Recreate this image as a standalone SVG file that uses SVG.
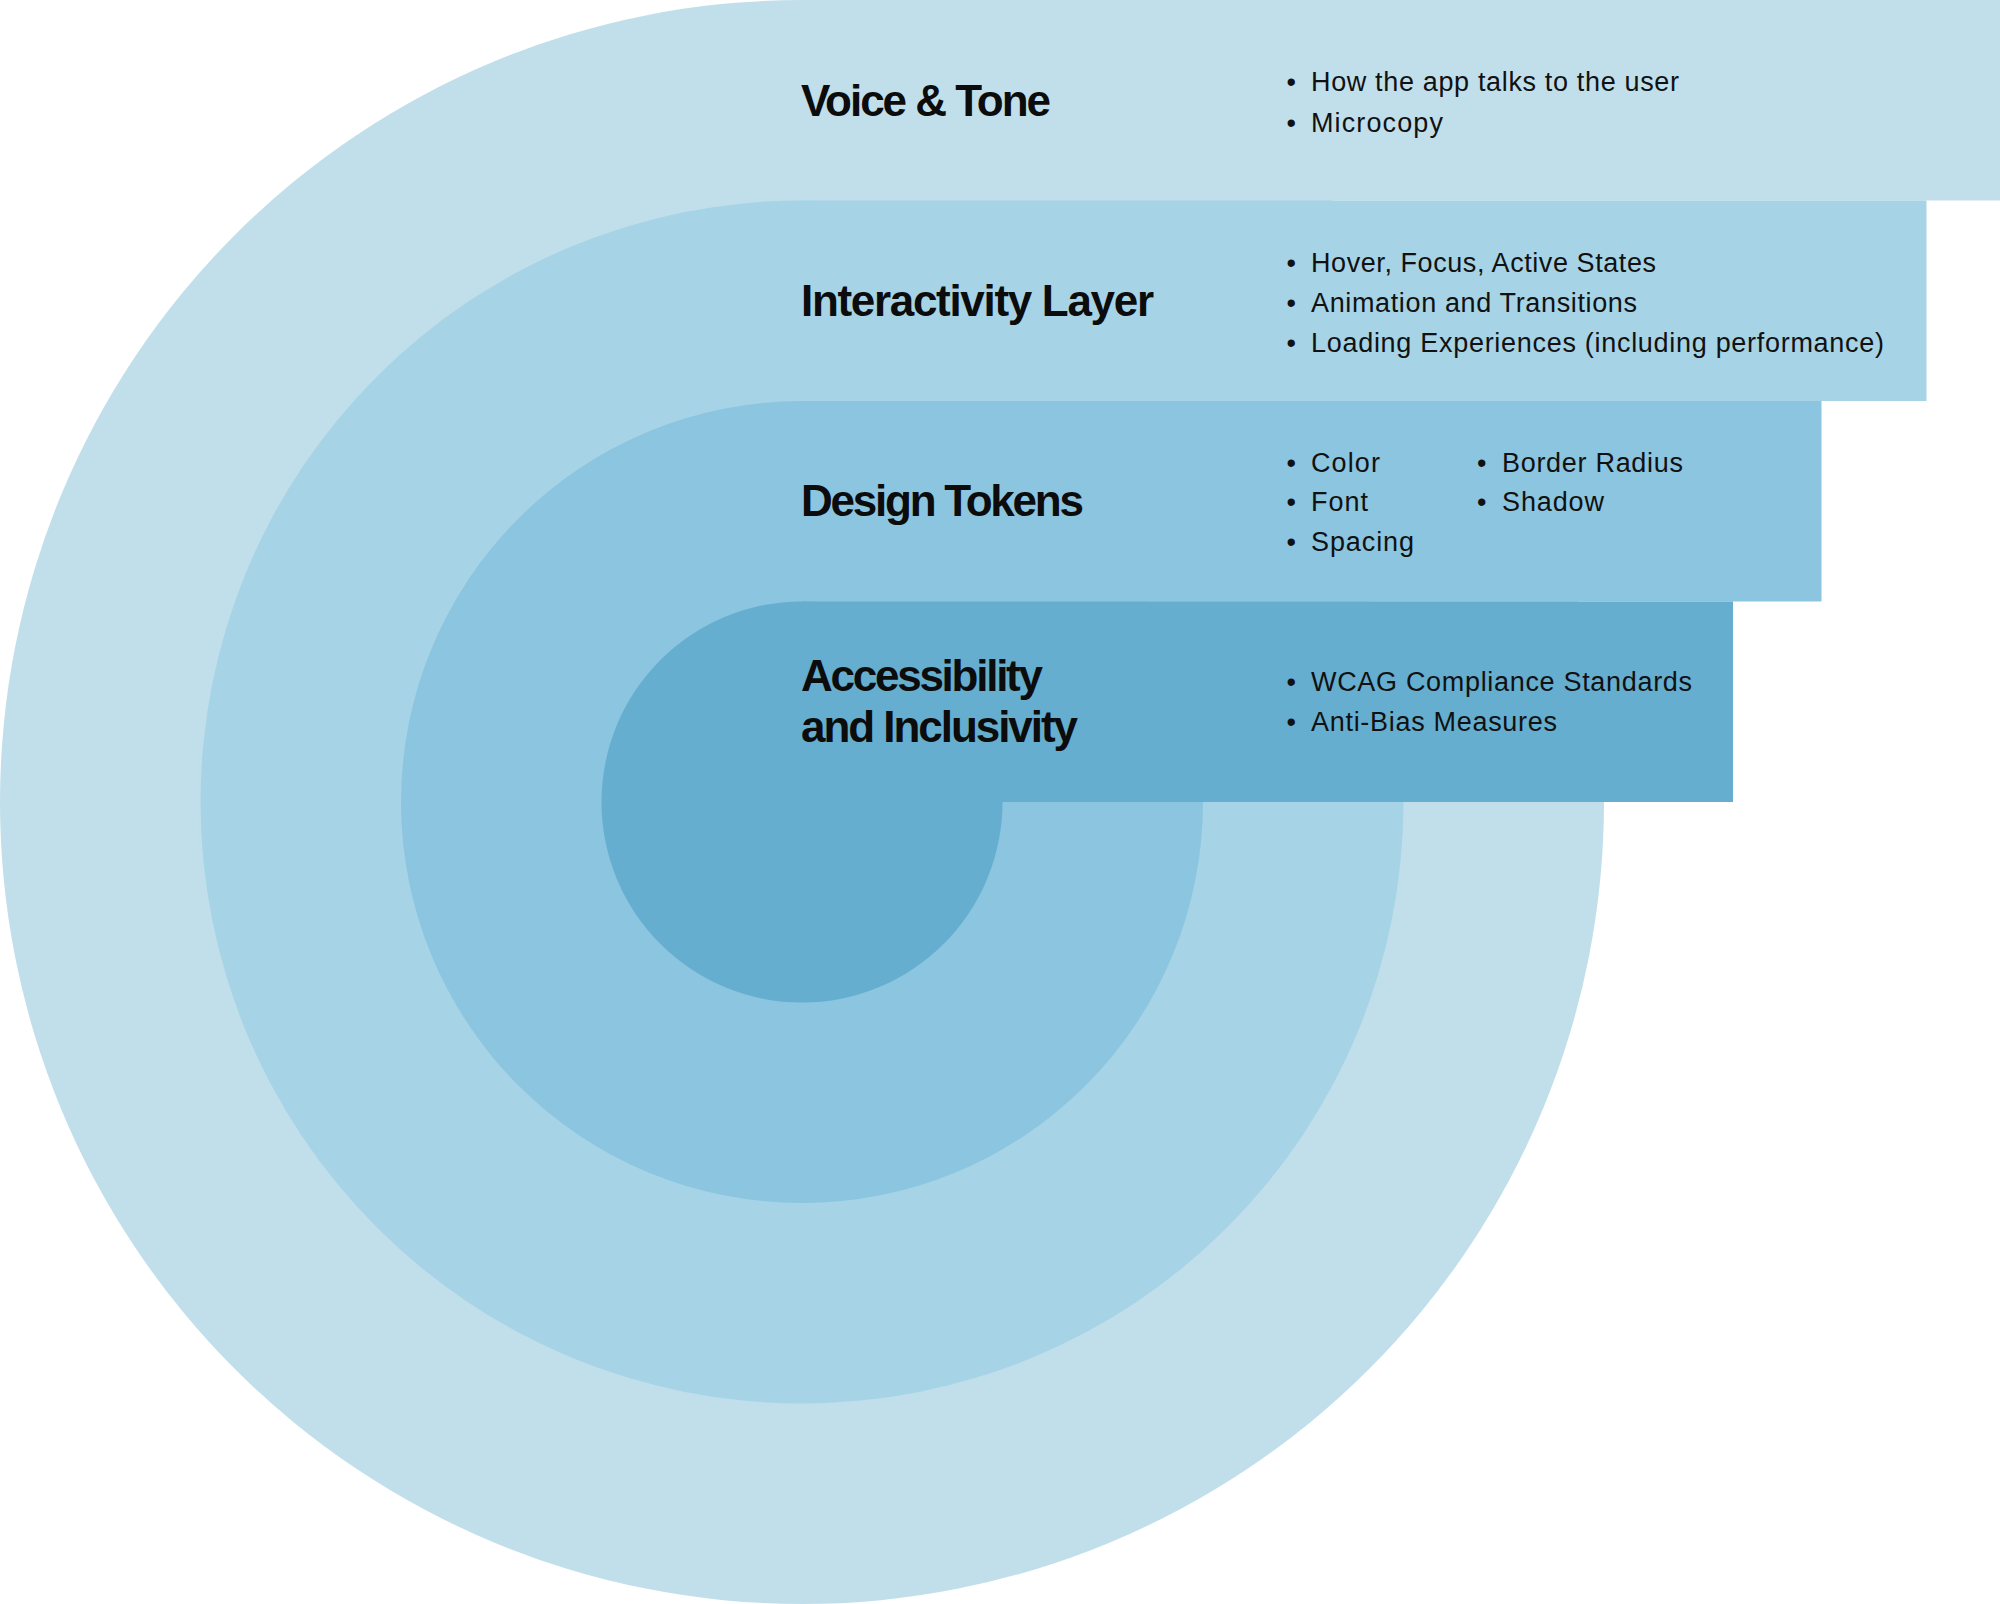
<svg xmlns="http://www.w3.org/2000/svg" width="2000" height="1604" viewBox="0 0 2000 1604">
  <style>
    .title { font-family: "Liberation Sans", Arial, sans-serif; font-weight: 700; font-size: 44px; fill: #0c0c0c; }
    .item  { font-family: "Liberation Sans", Arial, sans-serif; font-size: 27px; fill: #111111; }
    .l1 { fill: #c1dfeb; }
    .l2 { fill: #a6d4e6; }
    .l3 { fill: #8bc5df; }
    .l4 { fill: #65aecf; }
  </style>

  <rect width="2000" height="1604" fill="#ffffff"/>

  <!-- Outer layer: Voice & Tone -->
  <g id="voice-tone">
    <circle class="l1" cx="802" cy="802" r="802"/>
    <rect class="l1" x="802" y="0" width="1198" height="200.5"/>
    <text class="title" x="801" y="116" textLength="250" lengthAdjust="spacing">Voice &amp; Tone</text>
    <text class="item" x="1286.5" y="91">•</text>
    <text class="item" x="1311" y="91" textLength="368" lengthAdjust="spacing">How the app talks to the user</text>
    <text class="item" x="1286.5" y="131.5">•</text>
    <text class="item" x="1311" y="131.5" textLength="132" lengthAdjust="spacing">Microcopy</text>
  </g>

  <!-- Second layer: Interactivity Layer -->
  <g id="interactivity-layer">
    <circle class="l2" cx="802" cy="802" r="601.5"/>
    <rect class="l2" x="802" y="200.5" width="1124.5" height="200.5"/>
    <text class="title" x="801" y="316" textLength="353" lengthAdjust="spacing">Interactivity Layer</text>
    <text class="item" x="1286.5" y="271.7">•</text>
    <text class="item" x="1311" y="271.7" textLength="345" lengthAdjust="spacing">Hover, Focus, Active States</text>
    <text class="item" x="1286.5" y="311.7">•</text>
    <text class="item" x="1311" y="311.7" textLength="326" lengthAdjust="spacing">Animation and Transitions</text>
    <text class="item" x="1286.5" y="351.7">•</text>
    <text class="item" x="1311" y="351.7" textLength="573" lengthAdjust="spacing">Loading Experiences (including performance)</text>
  </g>

  <!-- Third layer: Design Tokens -->
  <g id="design-tokens">
    <circle class="l3" cx="802" cy="802" r="401"/>
    <rect class="l3" x="802" y="401" width="1019.5" height="200.5"/>
    <text class="title" x="801" y="516" textLength="283" lengthAdjust="spacing">Design Tokens</text>
    <text class="item" x="1286.5" y="471.7">•</text>
    <text class="item" x="1311" y="471.7" textLength="69" lengthAdjust="spacing">Color</text>
    <text class="item" x="1286.5" y="511">•</text>
    <text class="item" x="1311" y="511" textLength="57" lengthAdjust="spacing">Font</text>
    <text class="item" x="1286.5" y="550.5">•</text>
    <text class="item" x="1311" y="550.5" textLength="103" lengthAdjust="spacing">Spacing</text>
    <text class="item" x="1477" y="471.7">•</text>
    <text class="item" x="1502" y="471.7" textLength="181" lengthAdjust="spacing">Border Radius</text>
    <text class="item" x="1477" y="511">•</text>
    <text class="item" x="1502" y="511" textLength="102" lengthAdjust="spacing">Shadow</text>
  </g>

  <!-- Core layer: Accessibility and Inclusivity -->
  <g id="accessibility-inclusivity">
    <circle class="l4" cx="802" cy="802" r="200.5"/>
    <rect class="l4" x="802" y="601.5" width="931" height="200.5"/>
    <text class="title" x="801" y="691" textLength="242" lengthAdjust="spacing">Accessibility</text>
    <text class="title" x="801" y="742" textLength="277" lengthAdjust="spacing">and Inclusivity</text>
    <text class="item" x="1286.5" y="690.7">•</text>
    <text class="item" x="1311" y="690.7" textLength="381" lengthAdjust="spacing">WCAG Compliance Standards</text>
    <text class="item" x="1286.5" y="731">•</text>
    <text class="item" x="1311" y="731" textLength="246" lengthAdjust="spacing">Anti-Bias Measures</text>
  </g>
</svg>
